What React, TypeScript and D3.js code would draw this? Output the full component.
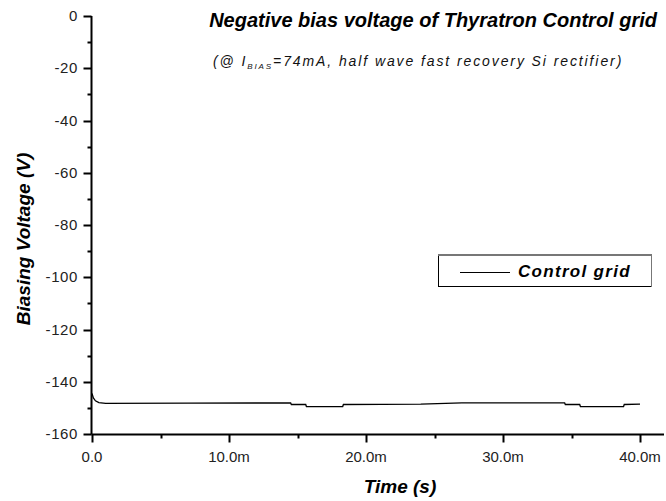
import React from "react";
import * as d3 from "d3";

const timeMs = [0, 0.1, 0.25, 0.5, 1.0, 7.0, 14.5, 14.55, 15.6, 15.65, 18.3, 18.35, 24.0, 27.0, 34.5, 34.55, 35.6, 35.65, 38.8, 38.85, 40.0];
const voltage = [-144.5, -146.2, -147.3, -148.0, -148.3, -148.2, -148.1, -148.7, -148.7, -149.5, -149.5, -148.7, -148.6, -148.1, -148.1, -148.7, -148.7, -149.5, -149.5, -148.7, -148.6];

const xMajorTicks = [0, 10, 20, 30, 40];
const xMinorTicks = [5, 15, 25, 35];
const xTickLabels = ["0.0", "10.0m", "20.0m", "30.0m", "40.0m"];
const yMajorTicks = [0, -20, -40, -60, -80, -100, -120, -140, -160];
const yMinorTicks = [-10, -30, -50, -70, -90, -110, -130, -150];

const seriesName = "Control grid";
const title = "Negative bias voltage of Thyratron Control grid";
const xTitle = "Time (s)";
const yTitle = "Biasing Voltage (V)";

export default function App() {
  const W = 666, H = 501;
  const x = d3.scaleLinear().domain([0, 40]).range([92, 640]);
  const y = d3.scaleLinear().domain([-160, 0]).range([434, 16]);
  const data = timeMs.map((t, i) => [t, voltage[i]] as [number, number]);
  const line = d3.line<[number, number]>().x(d => x(d[0])).y(d => y(d[1]));
  const font = "'Liberation Sans', Arial, sans-serif";
  const axisX0 = 91.5;
  const axisY0 = 434.5;

  return (
    <svg width={W} height={H} style={{ position: "absolute", left: 0, top: 0, background: "#fff" }} fontFamily={font}>
      <rect x={0} y={0} width={W} height={H} fill="#fff" />
      {/* title */}
      <text x={657} y={27} textAnchor="end" fontSize={20} fontWeight="bold" fontStyle="italic" fill="#000">{title}</text>
      <text x={213} y={66} fontSize={14} fontStyle="italic" fill="#111" letterSpacing={1.9}>
        <tspan>(@ I</tspan>
        <tspan fontSize={8} dy={3}>BIAS</tspan>
        <tspan dy={-3}>=74mA, half wave fast recovery Si rectifier)</tspan>
      </text>

      {/* y axis */}
      <line x1={axisX0} x2={axisX0} y1={y(0)} y2={axisY0} stroke="#000" strokeWidth={2} />
      {yMajorTicks.map(v => (
        <g key={"ym" + v}>
          <line x1={axisX0 - 8} x2={axisX0} y1={Math.round(y(v)) + 0.5} y2={Math.round(y(v)) + 0.5} stroke="#000" strokeWidth={2} />
          <text x={78} y={y(v) + 5} textAnchor="end" fontSize={15} fill="#222" letterSpacing={0.6}>{v}</text>
        </g>
      ))}
      {yMinorTicks.map(v => (
        <line key={"yn" + v} x1={axisX0 - 4} x2={axisX0} y1={Math.round(y(v)) + 0.5} y2={Math.round(y(v)) + 0.5} stroke="#000" strokeWidth={2} />
      ))}

      {/* x axis */}
      <line x1={axisX0} x2={664} y1={axisY0} y2={axisY0} stroke="#000" strokeWidth={2} />
      {xMajorTicks.map((t, i) => (
        <g key={"xm" + t}>
          <line x1={Math.round(x(t)) + 0.5} x2={Math.round(x(t)) + 0.5} y1={axisY0} y2={axisY0 + 8} stroke="#000" strokeWidth={2} />
          <text x={x(t)} y={462} textAnchor="middle" fontSize={15} fill="#222">{xTickLabels[i]}</text>
        </g>
      ))}
      {xMinorTicks.map(t => (
        <line key={"xn" + t} x1={Math.round(x(t)) + 0.5} x2={Math.round(x(t)) + 0.5} y1={axisY0} y2={axisY0 + 4} stroke="#000" strokeWidth={2} />
      ))}

      {/* axis titles */}
      <text x={400} y={493} textAnchor="middle" fontSize={19} fontWeight="bold" fontStyle="italic" fill="#000">{xTitle}</text>
      <text transform={`translate(30,239) rotate(-90)`} textAnchor="middle" fontSize={19} fontWeight="bold" fontStyle="italic" fill="#000">{yTitle}</text>

      {/* data */}
      <path d={line(data) || ""} fill="none" stroke="#000" strokeWidth={1.3} />

      {/* legend */}
      <rect x={438.5} y={254.5} width={213} height={32} fill="#fff" stroke="#000" strokeWidth={1} />
      <line x1={438} x2={652} y1={255} y2={255} stroke="#777" strokeWidth={2} />
      <line x1={651.5} x2={651.5} y1={254} y2={287} stroke="#777" strokeWidth={1} />
      <line x1={460} x2={510} y1={272.5} y2={272.5} stroke="#000" strokeWidth={1} />
      <text x={518} y={277} fontSize={17} fontWeight="bold" fontStyle="italic" fill="#000" letterSpacing={1.3}>{seriesName}</text>
    </svg>
  );
}
